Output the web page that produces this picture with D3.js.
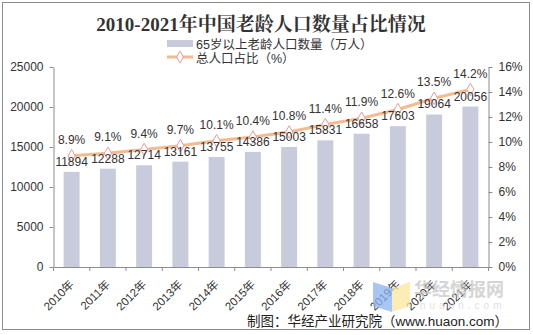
<!DOCTYPE html>
<html><head><meta charset="utf-8">
<script src="https://cdn.jsdelivr.net/npm/d3@7/dist/d3.min.js"></script>
<style>
body{margin:0;background:#fff;}
svg{display:block;}
text{font-family:"Liberation Sans","Noto Sans CJK SC",sans-serif;}
</style></head><body>
<script>
const years = ["2010年","2011年","2012年","2013年","2014年","2015年","2016年","2017年","2018年","2019年","2020年","2021年"];
const population = [11894,12288,12714,13161,13755,14386,15003,15831,16658,17603,19064,20056];
const ratio = [8.9,9.1,9.4,9.7,10.1,10.4,10.8,11.4,11.9,12.6,13.5,14.2];
const leftTicks = [0,5000,10000,15000,20000,25000];
const rightTicks = [0,2,4,6,8,10,12,14,16];
const title = "2010-2021年中国老龄人口数量占比情况";
const legendBar = "65岁以上老龄人口数量（万人）";
const legendLine = "总人口占比（%）";
const source = "制图：华经产业研究院（www.huaon.com）";

const W=533,H=335;
const svg=d3.select("body").append("svg").attr("width",W).attr("height",H);
svg.append("rect").attr("x",2.5).attr("y",2.5).attr("width",527).attr("height",327)
  .attr("fill","#fff").attr("stroke","#8c8c8c").attr("stroke-width",1);

const x0=53.5,x1=488.5,yTop=67,yBot=267;
const x=d3.scaleBand().domain(years).range([x0,x1]).paddingInner(0.56).paddingOuter(0.28);
const xc=d3.scaleBand().domain(years).range([x0,x1]);
const yL=d3.scaleLinear().domain([0,25000]).range([yBot,yTop]);
const yR=d3.scaleLinear().domain([0,16]).range([yBot,yTop]);

// title
svg.append("text").attr("x",261).attr("y",31).attr("text-anchor","middle")
  .style("font-family","'Liberation Serif','Noto Serif CJK SC','Noto Sans CJK SC',serif")
  .style("font-weight","bold").style("font-size","19px").attr("fill","#333").text(title);

// legend
svg.append("rect").attr("x",167).attr("y",40).attr("width",26).attr("height",7).attr("fill","#c8cbdb");
svg.append("text").attr("x",196).attr("y",48.5).style("font-size","12.5px").attr("fill","#333").text(legendBar);
svg.append("line").attr("x1",167).attr("x2",193).attr("y1",57).attr("y2",57).attr("stroke","#f5bb8f").attr("stroke-width",3);
svg.append("path").attr("d",d3.symbol(d3.symbolDiamond,40)()).attr("transform","translate(180,57)")
  .attr("fill","#fff").attr("stroke","#e79b9b").attr("stroke-width",1);
svg.append("text").attr("x",196).attr("y",62.5).style("font-size","12.5px").attr("fill","#333").text(legendLine);

// bars
svg.selectAll("rect.bar").data(population).join("rect").attr("class","bar")
  .attr("x",(d,i)=>x(years[i])).attr("width",x.bandwidth())
  .attr("y",d=>yL(d)).attr("height",d=>yBot-yL(d)).attr("fill","#c8cbdb");

// axes
const gl=svg.append("g").attr("transform",`translate(${x0},0)`)
  .call(d3.axisLeft(yL).tickValues(leftTicks).tickSize(4).tickSizeOuter(0).tickPadding(6).tickFormat(d3.format("d")));
const gr=svg.append("g").attr("transform",`translate(${x1},0)`)
  .call(d3.axisRight(yR).tickValues(rightTicks).tickSize(4).tickSizeOuter(0).tickPadding(6).tickFormat(d=>d+"%"));
const gb=svg.append("g").attr("transform",`translate(0,${yBot})`)
  .call(d3.axisBottom(xc).tickSize(0).tickSizeOuter(0));
[gl,gr,gb].forEach(g=>{g.select(".domain").attr("stroke","#8c8c8c");g.selectAll(".tick line").attr("stroke","#8c8c8c");
  g.selectAll("text").style("font-size","12px").attr("fill","#333");});
// category boundary ticks
svg.selectAll("line.ct").data(d3.range(years.length+1)).join("line").attr("class","ct")
  .attr("x1",i=>x0+i*xc.step()).attr("x2",i=>x0+i*xc.step()).attr("y1",yBot).attr("y2",yBot+4).attr("stroke","#8c8c8c");
gb.selectAll(".tick text").attr("text-anchor","end").attr("dy","0").attr("y",0)
  .attr("transform","translate(3,18) rotate(-45)").style("font-size","11.5px");

// watermark
const wm=svg.append("g").attr("opacity",0.75);
wm.append("path").attr("d","M373,282 L392,288 L392,312 L373,306 Z").attr("fill","#8ab4f0");
wm.append("path").attr("d","M392,288 L410,282 L410,306 L392,312 Z").attr("fill","#fbe7a0");
wm.append("text").attr("x",414).attr("y",296).style("font-size","18px").style("font-weight","bold")
  .style("font-family","'Noto Sans CJK SC',sans-serif").attr("fill","#c8c8c8").text("华经情报网");
wm.append("text").attr("x",420).attr("y",309).style("font-size","10px").style("letter-spacing","4px")
  .attr("fill","#d8d8d8").text("huaon.com");

// line
const line=d3.line().x((d,i)=>xc(years[i])+xc.bandwidth()/2).y(d=>yR(d));
svg.append("path").datum(ratio).attr("d",line).attr("fill","none").attr("stroke","#f5bb8f").attr("stroke-width",3);
svg.selectAll("path.mk").data(ratio).join("path").attr("class","mk")
  .attr("d",d3.symbol(d3.symbolDiamond,45)())
  .attr("transform",(d,i)=>`translate(${xc(years[i])+xc.bandwidth()/2},${yR(d)})`)
  .attr("fill","#fff").attr("stroke","#e79b9b").attr("stroke-width",1);

// labels
svg.selectAll("text.pl").data(ratio).join("text").attr("class","pl")
  .attr("x",(d,i)=>xc(years[i])+xc.bandwidth()/2).attr("y",d=>yR(d)-12)
  .attr("text-anchor","middle").style("font-size","12px").attr("fill","#333").text(d=>d.toFixed(1)+"%");
svg.selectAll("text.vl").data(population).join("text").attr("class","vl")
  .attr("x",(d,i)=>xc(years[i])+xc.bandwidth()/2).attr("y",d=>yL(d)-6)
  .attr("text-anchor","middle").style("font-size","12px").attr("fill","#333").text(d=>d);

// source
svg.append("text").attr("x",508).attr("y",326).attr("text-anchor","end").style("font-size","13.5px")
  .style("font-family","'Liberation Sans','Noto Sans CJK SC',sans-serif").attr("fill","#222").text(source);
</script></body></html>
